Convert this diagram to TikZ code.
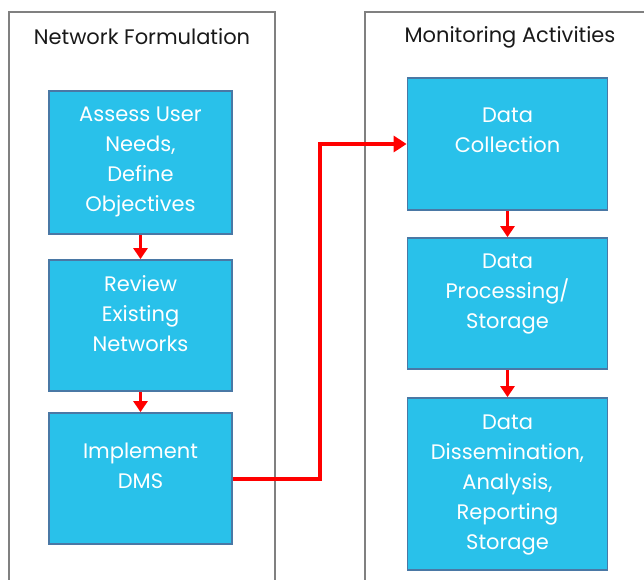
\documentclass[tikz,border=0pt]{standalone}
\usepackage{fontspec}
\setmainfont{Poppins}
\usetikzlibrary{arrows.meta}
\definecolor{boxfill}{RGB}{41,193,234}
\definecolor{boxline}{RGB}{74,120,165}
\definecolor{panelline}{RGB}{128,128,128}
\definecolor{flowred}{RGB}{255,0,0}
\tikzset{
  panel/.style={draw=panelline, line width=2pt},
  stepbox/.style={draw=boxline, fill=boxfill, line width=1.8pt, inner sep=0pt},
  boxtext/.style={text=white, font=\fontsize{21}{30}\selectfont, align=center, inner sep=0pt},
  paneltitle/.style={text=black!90, font=\fontsize{21}{24}\selectfont, inner sep=0pt},
  flow/.style={draw=flowred, line width=3pt, -{Triangle[width=14pt,length=11pt]}},
}
\begin{document}
\begin{tikzpicture}[x=1pt,y=-1pt]
\useasboundingbox (0,0) rectangle (644,579);
\clip (0,0) rectangle (644,579);
% panels
\draw[panel] (9,595) -- (9,12) -- (275,12) -- (275,595);
\draw[panel] (365,595) -- (365,12) -- (660,12);
\node[paneltitle] (t1) at (142,37) {Network Formulation};
\node[paneltitle] (t2) at (510,37) {Monitoring Activities};
% left boxes
\node[stepbox, minimum width=183pt, minimum height=143pt] (a1) at (140.5,162.5) {};
\node[stepbox, minimum width=183pt, minimum height=131pt] (a2) at (140.5,325.5) {};
\node[stepbox, minimum width=183pt, minimum height=131pt] (a3) at (140.5,478.5) {};
\node[boxtext] (a1t) at (140.5,162) {Assess User\\Needs,\\Define\\Objectives};
\node[boxtext] (a2t) at (140.5,314) {Review\\Existing\\Networks};
\node[boxtext] (a3t) at (140.5,465.5) {Implement\\DMS};
% right boxes
\node[stepbox, minimum width=200pt, minimum height=132pt] (b1) at (507.5,144) {};
\node[stepbox, minimum width=200pt, minimum height=131pt] (b2) at (507.5,303.5) {};
\node[stepbox, minimum width=200pt, minimum height=172pt] (b3) at (507.5,484) {};
\node[boxtext] (b1t) at (507.5,130.5) {Data\\Collection};
\node[boxtext] (b2t) at (507.5,294) {Data\\Processing/\\Storage};
\node[boxtext] (b3t) at (507.5,485) {Data\\Dissemination,\\Analysis,\\Reporting\\Storage};
% connectors
\draw[flow] (a1.south) -- (a2.north);
\draw[flow] (a2.south) -- (a3.north);
\draw[flow] (b1.south) -- (b2.north);
\draw[flow] (b2.south) -- (b3.north);
\draw[flow, line width=4pt, -{Triangle[width=16pt,length=13pt]}] (a3.east |- 0,479) -- (320,479) -- (320,144) -- (b1.west);
\end{tikzpicture}
\end{document}
